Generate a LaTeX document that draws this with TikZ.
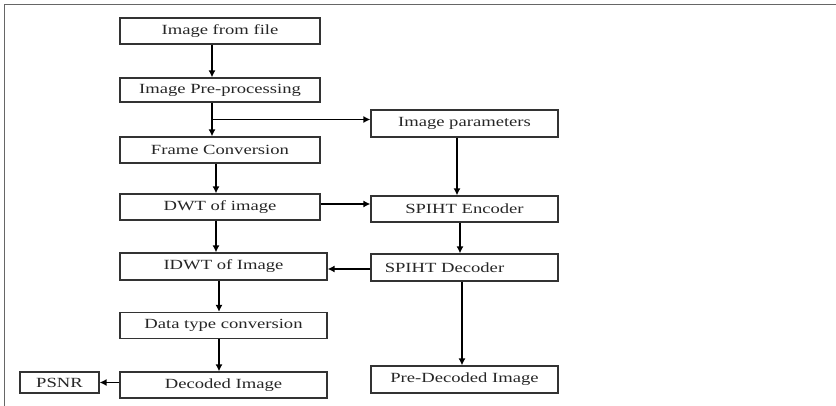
\documentclass[tikz,border=0pt]{standalone}
\usepackage{fontspec}
\setmainfont[FakeStretch=1.33]{Liberation Serif}
\usetikzlibrary{arrows.meta}

\tikzset{
  block/.style={draw=black!80, line width=1.2pt, fill=white, text=black!85,
    inner sep=0pt, font=\fontsize{14}{16}\selectfont},
  arr/.style={line width=1.4pt, -{Latex[length=7pt,width=7pt]}},
}

\begin{document}
\begin{tikzpicture}[x=1pt,y=-1pt]
  \useasboundingbox (0,0) rectangle (836,406);
  % frame lines on top and left
  \draw[black!60, line width=1pt] (4,406) -- (4,5) -- (836,5);

  % main chain
  \node[block, minimum width=200pt, minimum height=26pt] (file)   at (220,31)    {Image from file};
  \node[block, minimum width=200pt, minimum height=24pt] (pre)    at (220,90)    {Image Pre-processing};
  \node[block, minimum width=200pt, minimum height=26pt] (frame)  at (220,150)   {Frame Conversion};
  \node[block, minimum width=200pt, minimum height=26pt] (dwt)    at (220,207)   {DWT of image};
  \node[block, minimum width=207pt, minimum height=27pt] (idwt)   at (223.5,266.5) {IDWT of Image};
  \node[block, minimum width=207pt, minimum height=26pt] (dtc)    at (223.5,325.5) {Data type conversion};
  \node[block, minimum width=207pt, minimum height=26pt] (dec)    at (223.5,385) {Decoded Image};
  \node[block, minimum width=79pt,  minimum height=21pt] (psnr)   at (59.5,382.5) {PSNR};

  % SPIHT side
  \node[block, minimum width=187pt, minimum height=27pt] (params) at (464.5,123.5) {Image parameters};
  \node[block, minimum width=187pt, minimum height=26pt] (enc)    at (464.5,209)   {SPIHT Encoder};
  \node[block, minimum width=187pt, minimum height=27pt] (spdec)  at (464.5,267.5) {SPIHT Decoder\hspace*{40pt}};
  \node[block, minimum width=187pt, minimum height=27pt] (predec) at (464.5,379.5) {Pre-Decoded Image};

  \coordinate (split) at ([xshift=-8pt]pre.south |- params.west);

  \begin{scope}[arr]
    \draw ([xshift=-8pt]file.south) -- ([xshift=-8pt]pre.north);
    \draw ([xshift=-8pt]pre.south) -- ([xshift=-8pt]frame.north);
    \draw ([yshift=4pt]split) -- ([yshift=4pt]params.west);
    \draw ([xshift=-4pt]frame.south) -- ([xshift=-4pt]dwt.north);
    \draw ([xshift=-4pt]dwt.south) -- ([xshift=-4pt]dwt.south |- idwt.north);
    \draw ([yshift=3pt]dwt.east) -- ([yshift=3pt]dwt.east -| enc.west);
    \draw ([xshift=-4.5pt]idwt.south) -- ([xshift=-4.5pt]dtc.north);
    \draw ([xshift=-4.5pt]dtc.south) -- ([xshift=-4.5pt]dec.north);
    \draw (psnr.east -| dec.west) -- (psnr.east);
    \draw ([xshift=-7.5pt]params.south) -- ([xshift=-7.5pt]enc.north);
    \draw ([xshift=-4.5pt]enc.south) -- ([xshift=-4.5pt]spdec.north);
    \draw ([yshift=-1.5pt]spdec.west) -- ([yshift=-1.5pt]spdec.west -| idwt.east);
    \draw ([xshift=-2.5pt]spdec.south) -- ([xshift=-2.5pt]predec.north);
  \end{scope}
\end{tikzpicture}
\end{document}
